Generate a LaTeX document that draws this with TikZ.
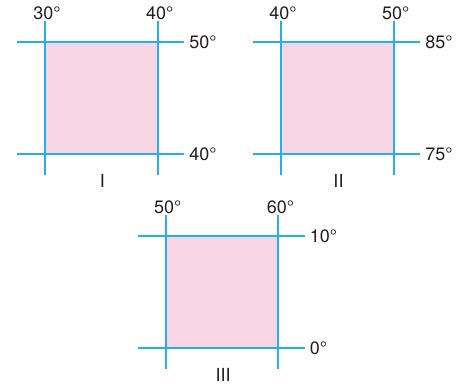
\documentclass[tikz,border=0pt]{standalone}
\usepackage{fontspec}
\setmainfont{TeX Gyre Heros}
\usepackage{xcolor}
\definecolor{gridblue}{RGB}{40,176,230}
\definecolor{boxpink}{RGB}{248,213,228}
\definecolor{labelgray}{RGB}{35,31,32}

\begin{document}
\begin{tikzpicture}[x=0.75pt,y=-0.75pt,
  gridline/.style={gridblue,line width=1.4pt},
  deglabel/.style={labelgray,font=\fontsize{13.5}{15}\selectfont,inner sep=0pt}]
  \useasboundingbox (0,0) rectangle (461,388);
  % panels: left x, top y, longitudes, latitudes, numeral
  \foreach \ox/\oy/\lona/\lonb/\lata/\latb/\nm in
      {45/41.7/30/40/50/40/I, 281/41.7/40/50/85/75/II, 165.7/235.7/50/60/10/0/III}{
    \coordinate (tl-\nm) at (\ox,\oy);
    \coordinate (br-\nm) at ({\ox+112.7},{\oy+112.7});
    \fill[boxpink] (tl-\nm) rectangle (br-\nm);
    % grid lines
    \coordinate (va1-\nm) at (\ox,{\oy-20.7});
    \coordinate (va2-\nm) at (\ox,{\oy+133.4});
    \coordinate (vb1-\nm) at ({\ox+112.7},{\oy-20.7});
    \coordinate (vb2-\nm) at ({\ox+112.7},{\oy+133.4});
    \coordinate (ha1-\nm) at ({\ox-28},\oy);
    \coordinate (ha2-\nm) at ({\ox+139.2},\oy);
    \coordinate (hb1-\nm) at ({\ox-28},{\oy+112.7});
    \coordinate (hb2-\nm) at ({\ox+139.2},{\oy+112.7});
    \draw[gridline] (va1-\nm) -- (va2-\nm);
    \draw[gridline] (vb1-\nm) -- (vb2-\nm);
    \draw[gridline] (ha1-\nm) -- (ha2-\nm);
    \draw[gridline] (hb1-\nm) -- (hb2-\nm);
    % labels
    \node[deglabel,anchor=base] (lona-\nm) at ({\ox+2},{\oy-22}) {\lona°};
    \node[deglabel,anchor=base] (lonb-\nm) at ({\ox+114.7},{\oy-22}) {\lonb°};
    \node[deglabel,anchor=west,text depth=0pt] (lata-\nm) at ({\ox+144},\oy) {\lata°};
    \node[deglabel,anchor=west,text depth=0pt] (latb-\nm) at ({\ox+144},{\oy+112.7}) {\latb°};
    \node[deglabel,anchor=base] (nm-\nm) at ({\ox+57.5},{\oy+146}) {\nm};
  }
\end{tikzpicture}
\end{document}
